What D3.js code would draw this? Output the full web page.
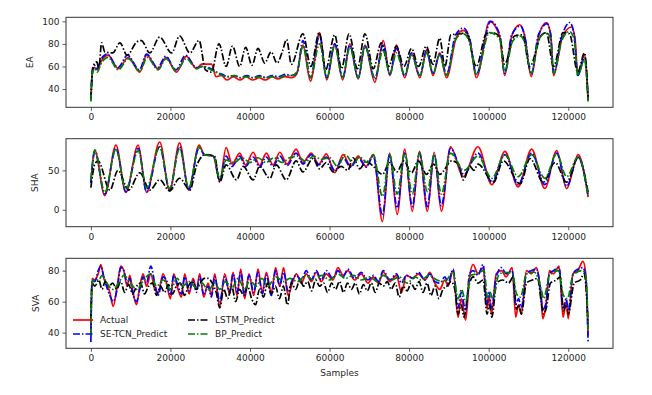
<!DOCTYPE html>
<html>
<head>
<meta charset="utf-8">
<script src="https://cdn.jsdelivr.net/npm/d3@7"></script>
<style>
  html, body { margin: 0; padding: 0; background: #fff; }
  svg text { font-family: "DejaVu Sans", sans-serif; }
</style>
</head>
<body>
<div id="chart"></div>
<script>
// x ticks shared by all three panels
const sampleTicks = [0, 20000, 40000, 60000, 80000, 100000, 120000];

// ---- EA panel, [sample, value] key points
const eaActual = [[0,30],[400,56],[900,59],[1600,57],[2500,64],[4300,70],[6900,58],[9400,68],[12300,55],[14000,70],[16900,58],[18900,68],[21500,55],[24000,69],[26600,58],[27800,62],[30300,62],[31500,51],[32800,52],[34200,48],[35800,51],[37500,48],[39000,51],[40700,48],[42300,50],[43900,48],[45500,51],[47000,49],[48800,51],[50500,50],[51700,53],[53300,79],[55200,47],[57500,90],[59300,48],[61300,80],[63300,48],[65100,80],[67200,49],[68900,79],[71400,46],[73500,83],[75150,52],[76800,79],[78900,50],[80600,72],[82700,50],[84400,75],[86000,52],[87700,72],[89400,50],[91900,86],[93600,92],[95200,84],[96900,50],[100250,100],[102800,86],[104000,52],[105800,87],[107800,97],[109000,88],[110700,51],[112500,86],[114500,99],[115600,88],[116300,52],[118500,86],[120800,95],[121700,85],[122400,52],[124100,70],[125000,30]];
const eaSeTcn = [[0,31],[400,58],[900,61],[1600,58],[2500,66],[4100,71],[6800,59],[9200,70],[12200,57],[14000,71],[16800,59],[18800,69],[21400,57],[23800,70],[26500,59],[28000,60],[30200,58],[31500,55],[33000,53],[34500,51],[36000,52],[37600,50],[39200,52],[40800,50],[42400,52],[44000,50],[45600,52],[47200,51],[48900,53],[50500,52],[51800,54],[53300,83],[55200,50],[57500,88],[59300,50],[61300,80],[63300,50],[65100,79],[67200,50],[68900,78],[71400,49],[73500,80],[75150,53],[76800,76],[78900,52],[80600,72],[82700,52],[84400,74],[86000,54],[87700,71],[89400,53],[91700,88],[93600,94],[95200,85],[96900,53],[100500,100],[102800,88],[104000,54],[105800,88],[108000,96],[109000,88],[110700,53],[112500,88],[114700,98],[115600,88],[116300,54],[118500,88],[120400,99],[121500,88],[122400,52],[124100,68],[125000,31]];
const eaLstm = [[0,31],[500,57],[1000,63],[1500,64],[2000,58],[2700,81],[3500,73],[5500,72],[7300,81],[9100,70],[11600,82],[12700,83],[14800,72],[17300,86],[20300,72],[22300,87],[24900,72],[27200,83],[28800,57],[30300,55],[32200,80],[34000,60],[35600,78],[37400,60],[38900,77],[40500,61],[42000,76],[43700,63],[45300,73],[46800,63],[48200,74],[49200,84],[50400,62],[53300,89],[55300,60],[57400,90],[59000,57],[61300,88],[63000,58],[64900,89],[67000,58],[68900,89],[71000,58],[73000,81],[74800,60],[76800,78],[78700,60],[80600,76],[82400,60],[84300,78],[86000,62],[87700,85],[89000,60],[90500,88],[93000,89],[94300,90],[96900,60],[99400,89],[101000,90],[102800,86],[104000,62],[106500,87],[108500,88],[110300,60],[113300,88],[114500,90],[116300,60],[118700,90],[120300,89],[122400,55],[124100,72],[125000,30]];
const eaBp = [[0,29],[400,55],[900,58],[1600,55],[2500,62],[4300,68],[6900,57],[9400,67],[12300,56],[14200,68],[16900,57],[18900,67],[21500,56],[24000,67],[26600,58],[28000,60],[30200,57],[31500,55],[33000,52],[34500,51],[36000,52],[37600,50],[39200,51],[40800,50],[42400,51],[44000,50],[45600,51],[47200,50],[48900,52],[50500,52],[51800,55],[53300,78],[55200,50],[57500,80],[59300,50],[61300,78],[63300,50],[65100,77],[67200,50],[68900,78],[71400,50],[73500,75],[75150,53],[76800,72],[78900,52],[80600,70],[82700,52],[84400,72],[86000,54],[87700,70],[89400,52],[91700,84],[93600,89],[95200,82],[96900,53],[100200,90],[102800,84],[104000,55],[106000,82],[107800,87],[109000,82],[110700,54],[112500,83],[114500,90],[115600,84],[116300,54],[118500,84],[120300,91],[121500,84],[122400,52],[124100,66],[125000,29]];

// ---- SHA panel
const shaActual = [[0,35],[1000,75],[3500,18],[6300,82],[8800,22],[11900,82],[14000,22],[17300,86],[19800,24],[22300,85],[24600,25],[27200,82],[28500,70],[30800,68],[32400,36],[34000,79],[35500,58],[37400,72],[38900,57],[40800,73],[42400,56],[44100,72],[45800,57],[47500,73],[49300,58],[51600,77],[53300,60],[55400,72],[57300,58],[59200,71],[61300,47],[63400,70],[65300,55],[67200,68],[69200,55],[71000,70],[73300,-15],[75100,72],[77000,-6],[78900,77],[80800,-2],[82600,74],[84600,-2],[86300,73],[88100,-2],[90400,80],[93600,42],[97300,80],[100800,32],[104100,74],[107400,29],[110800,77],[114100,27],[117100,75],[119600,27],[122500,70],[125000,16]];
const shaSeTcn = [[0,34],[1000,74],[3500,20],[6300,78],[8800,23],[11900,78],[14000,23],[17300,80],[19800,25],[22300,80],[24600,26],[27200,79],[28500,70],[30800,68],[32400,38],[34000,68],[35500,55],[37400,68],[38900,55],[40800,67],[42400,54],[44100,67],[45800,55],[47500,68],[49300,56],[51600,72],[53300,58],[55400,70],[57300,57],[59200,67],[61300,50],[63400,66],[65300,54],[67200,66],[69200,54],[71000,68],[73300,-7],[75100,70],[77000,2],[78900,72],[80800,4],[82600,72],[84600,4],[86300,70],[88100,5],[90400,78],[93800,45],[97300,72],[100800,35],[104100,70],[107400,32],[110800,72],[114100,32],[117100,72],[119600,30],[122500,67],[125000,18]];
const shaLstm = [[0,28],[1000,58],[1800,62],[4800,25],[6800,50],[9500,25],[12300,47],[14800,25],[17300,38],[19800,24],[22300,40],[24900,25],[26500,55],[27500,65],[28600,70],[31100,68],[32400,35],[34000,57],[36600,38],[38300,55],[40800,38],[42400,55],[45000,40],[46600,57],[49100,38],[51600,62],[53300,48],[55800,65],[57500,52],[59200,60],[60900,48],[62900,55],[64600,50],[65900,66],[67600,52],[69200,62],[71000,55],[73300,45],[75100,60],[76900,48],[78700,62],[80600,47],[82300,62],[84400,45],[86100,58],[87700,45],[90700,62],[92400,58],[93600,38],[95300,55],[96300,50],[97300,58],[101200,35],[103700,62],[107900,33],[110400,65],[113700,35],[116700,60],[119600,35],[122500,66],[125000,22]];
const shaBp = [[0,38],[1000,76],[3500,22],[6300,77],[8800,26],[11900,75],[14000,28],[17300,80],[19800,27],[22300,78],[24600,28],[27200,80],[28500,70],[30800,68],[32400,40],[34000,63],[36000,60],[38000,66],[40000,60],[42000,66],[44000,60],[46000,66],[48000,60],[50000,66],[52000,68],[54000,61],[56000,68],[58000,64],[60000,66],[62000,55],[64000,70],[66000,58],[67500,67],[69500,60],[71000,70],[73300,17],[75100,70],[77000,20],[78900,72],[80800,20],[82600,72],[84600,23],[86300,70],[88100,20],[90400,72],[93800,50],[97300,68],[100800,40],[104100,70],[107400,42],[110800,70],[114100,40],[117100,71],[119600,42],[122500,67],[125000,18]];

// ---- SVA panel
const svaActual = [[0,40],[300,75],[1000,74],[1840,78],[2510,84],[3260,75],[3930,72],[4770,66],[5610,57],[6610,70],[7530,83],[8290,80],[9120,70],[9790,77],[10460,68],[11470,58],[12300,70],[13140,78],[13980,70],[15070,78],[16070,68],[16910,66],[18160,78],[19000,72],[20000,62],[20840,78],[21680,70],[22770,63],[23600,78],[24690,65],[25700,75],[26530,68],[27370,78],[28370,63],[29460,72],[30300,64],[31140,78],[32400,57],[33650,78],[34900,65],[35740,79],[36740,64],[37670,81],[38670,62],[39760,78],[40930,64],[42020,81],[43100,66],[44110,79],[45370,66],[46450,82],[47460,70],[48460,82],[49550,64],[50640,72],[51640,78],[52900,72],[54150,78],[55410,73],[56660,79],[57920,73],[59180,78],[60850,74],[62100,82],[63400,77],[64600,80],[66300,74],[67960,78],[69640,72],[71000,76],[72300,72],[73500,79],[75150,73],[76800,77],[78100,66],[79300,77],[81000,75],[82300,78],[84000,74],[85200,79],[86450,72],[87700,68],[89000,74],[89800,70],[91050,80],[92300,50],[93100,62],[94200,48],[95200,76],[96100,84],[97300,78],[98600,82],[99600,55],[100100,64],[100700,52],[101900,78],[103200,80],[104400,76],[105900,82],[106800,50],[107500,58],[108200,52],[109500,80],[110700,78],[112000,82],[113100,65],[113600,49],[114300,56],[115300,80],[116300,78],[117700,83],[118700,50],[119500,60],[120000,49],[121200,78],[122400,80],[123700,86],[124400,78],[125000,38]];
const svaSeTcn = [[0,34],[300,74],[1000,73],[1840,80],[2510,83],[3260,76],[3930,70],[4770,64],[5610,60],[6610,68],[7530,82],[8290,80],[9120,72],[9790,75],[10460,66],[11470,60],[12300,68],[13140,76],[13980,72],[15070,83],[16070,72],[16910,64],[18160,76],[19000,74],[20000,64],[20840,77],[21680,72],[22770,65],[23600,76],[24690,67],[25700,74],[26530,66],[27370,76],[28370,65],[29460,70],[30300,63],[31140,76],[32400,60],[33650,76],[34900,66],[35740,78],[36740,66],[37670,79],[38670,64],[39760,77],[40930,66],[42020,79],[43100,65],[44110,77],[45370,64],[46450,80],[47460,70],[48460,79],[49550,67],[50640,74],[51640,77],[52900,74],[54150,80],[55410,74],[56660,80],[57920,74],[59180,80],[60850,75],[62100,80],[63400,76],[64600,81],[66300,75],[67960,79],[69640,74],[71000,77],[72300,73],[73500,80],[75150,74],[76800,78],[78100,72],[79300,77],[81000,75],[82300,79],[84000,74],[85200,78],[86450,73],[87700,72],[89000,76],[89800,72],[91050,81],[92300,56],[93100,66],[94200,54],[95200,78],[96100,80],[97300,77],[98600,84],[99600,58],[100100,66],[100700,56],[101900,76],[103200,82],[104400,78],[105900,80],[106800,58],[107500,62],[108200,56],[109500,78],[110700,80],[112000,81],[113100,66],[113600,55],[114300,58],[115300,78],[116300,80],[117700,82],[118700,56],[119500,62],[120000,54],[121200,78],[122400,81],[123700,82],[124400,76],[125000,33]];
const svaLstm = [[0,48],[300,72],[1000,70],[2000,74],[2800,68],[3600,73],[4500,70],[5500,72],[6500,68],[7500,73],[8500,66],[9500,71],[10500,65],[11500,70],[12500,72],[13500,65],[14500,70],[15500,72],[16500,64],[17500,70],[18500,66],[19500,71],[20500,65],[21500,70],[22500,72],[23500,64],[24500,70],[25500,73],[26500,68],[27500,72],[28500,75],[29500,75],[30500,72],[31500,66],[32400,56],[33400,68],[34400,62],[35400,70],[36400,60],[37400,68],[38400,64],[39400,70],[40400,62],[41400,58],[42400,68],[43400,63],[44400,72],[45400,65],[46400,70],[47400,62],[48400,70],[49400,58],[50400,72],[51500,68],[52500,74],[53500,70],[54500,73],[55500,67],[56500,74],[57500,70],[58500,72],[59500,66],[60500,72],[61500,68],[62500,73],[63500,66],[64500,72],[65500,68],[66500,72],[67500,65],[68500,71],[69500,67],[70500,72],[71500,66],[72500,72],[73500,70],[74500,73],[75500,68],[76500,72],[77500,63],[78500,70],[79500,67],[80500,72],[81500,68],[82500,73],[83500,66],[84500,72],[85500,64],[86500,70],[87500,62],[88500,68],[89500,70],[90500,73],[91500,68],[92300,52],[93100,58],[93800,50],[95000,70],[96100,76],[97300,72],[98600,74],[99600,52],[100200,58],[100800,50],[102000,72],[103500,74],[105000,72],[106200,76],[107000,55],[107600,58],[108200,52],[109500,72],[111000,74],[112300,75],[113200,60],[113800,52],[114500,56],[115500,72],[117000,74],[118000,76],[118800,54],[119500,58],[120000,52],[121500,72],[123000,74],[124000,78],[125000,46]];
const svaBp = [[0,38],[300,72],[1000,74],[2000,74],[2800,77],[4000,72],[5500,68],[7000,72],[8300,77],[10000,72],[11500,68],[13300,74],[15000,78],[16500,70],[18200,74],[20000,68],[21700,75],[23000,70],[24700,73],[26500,69],[28000,72],[29500,67],[31100,72],[32400,68],[33800,73],[35500,69],[37000,75],[38700,68],[40000,74],[41500,70],[43000,75],[44500,70],[46500,76],[48500,73],[50000,75],[52000,73],[54000,77],[56000,74],[58000,77],[60000,74],[62000,78],[64000,75],[66000,77],[68000,74],[70000,76],[72000,73],[73500,77],[75500,74],[77500,76],[79500,72],[81500,76],[83000,74],[85000,77],[87000,74],[89000,73],[91000,79],[92300,62],[93200,68],[94200,60],[95500,77],[97000,78],[98800,80],[99800,62],[100400,66],[101000,62],[102500,77],[104000,79],[106000,78],[107000,65],[108000,63],[109500,78],[111500,79],[113200,68],[113800,62],[115300,77],[117500,80],[118800,64],[119800,62],[121200,77],[123500,80],[124400,77],[125000,42]];

const seriesNames = ["Actual", "SE-TCN_Predict", "LSTM_Predict", "BP_Predict"];
const seriesColors = ["#ff0000", "#0000ff", "#000000", "#008000"];
const seriesDash = [null, "7,2,1.5,2", "7,2,1.5,2", "7,2,1.5,2"];

const panels = [
  { label: "EA",  series: [eaActual, eaSeTcn, eaLstm, eaBp],   domain: [23.8, 103.6], ticks: [40, 60, 80, 100], top: 17.3,  bottom: 107.3, labelX: 33 },
  { label: "SHA", series: [shaActual, shaSeTcn, shaLstm, shaBp], domain: [-21.5, 90.2], ticks: [0, 50],          top: 138.7, bottom: 226.7, labelX: 38 },
  { label: "SVA", series: [svaActual, svaSeTcn, svaLstm, svaBp], domain: [29.9, 88],    ticks: [40, 60, 80],      top: 258.3, bottom: 348.3, labelX: 39 }
];

const width = 652, height = 395;
const left = 66, right = 613;

const svg = d3.select("#chart").append("svg")
  .attr("width", width)
  .attr("height", height);

// matplotlib-style 5% margins around 0..125000
const x = d3.scaleLinear().domain([-6250, 131250]).range([left, right]);

panels.forEach((p, pi) => {
  const y = d3.scaleLinear().domain(p.domain).range([p.bottom, p.top]);
  const g = svg.append("g");

  const line = d3.line()
    .x(d => x(d[0]))
    .y(d => y(d[1]))
    .curve(d3.curveMonotoneX);

  p.series.forEach((s, i) => {
    g.append("path")
      .datum(s)
      .attr("fill", "none")
      .attr("stroke", seriesColors[i])
      .attr("stroke-width", 1.7)
      .attr("stroke-dasharray", seriesDash[i])
      .attr("d", line);
  });

  // axes
  const xAxis = g.append("g")
    .attr("transform", `translate(0,${p.bottom})`)
    .call(d3.axisBottom(x).tickValues(sampleTicks).tickFormat(d3.format("d")).tickSize(3.5).tickPadding(3));
  const yAxis = g.append("g")
    .attr("transform", `translate(${left},0)`)
    .call(d3.axisLeft(y).tickValues(p.ticks).tickFormat(d3.format("d")).tickSize(3.5).tickPadding(3));
  [xAxis, yAxis].forEach(a => {
    a.select(".domain").remove();
    a.selectAll(".tick line").attr("stroke", "#333").attr("stroke-width", 0.8);
    a.selectAll(".tick text").attr("fill", "#262626").attr("font-size", 9).attr("font-family", "DejaVu Sans");
  });

  // frame
  g.append("rect")
    .attr("x", left).attr("y", p.top)
    .attr("width", right - left).attr("height", p.bottom - p.top)
    .attr("fill", "none").attr("stroke", "#333").attr("stroke-width", 1);

  g.append("text")
    .attr("transform", `translate(${p.labelX},${(p.top + p.bottom) / 2}) rotate(-90)`)
    .attr("text-anchor", "middle")
    .attr("font-size", 9)
    .attr("fill", "#262626")
    .text(p.label);

  if (pi === panels.length - 1) {
    svg.append("text")
      .attr("x", (left + right) / 2)
      .attr("y", 376)
      .attr("text-anchor", "middle")
      .attr("font-size", 9)
      .attr("fill", "#262626")
      .text("Samples");

    // legend, two columns, no frame
    const legend = svg.append("g");
    seriesNames.forEach((name, i) => {
      const col = Math.floor(i / 2), row = i % 2;
      const lx = 73 + col * 115, ly = 320 + row * 14;
      legend.append("line")
        .attr("x1", lx).attr("x2", lx + 20)
        .attr("y1", ly).attr("y2", ly)
        .attr("stroke", seriesColors[i])
        .attr("stroke-width", 1.7)
        .attr("stroke-dasharray", seriesDash[i]);
      legend.append("text")
        .attr("x", lx + 27).attr("y", ly)
        .attr("dy", "0.35em")
        .attr("font-size", 9)
        .attr("fill", "#262626")
        .text(name);
    });
  }
});
</script>
</body>
</html>
